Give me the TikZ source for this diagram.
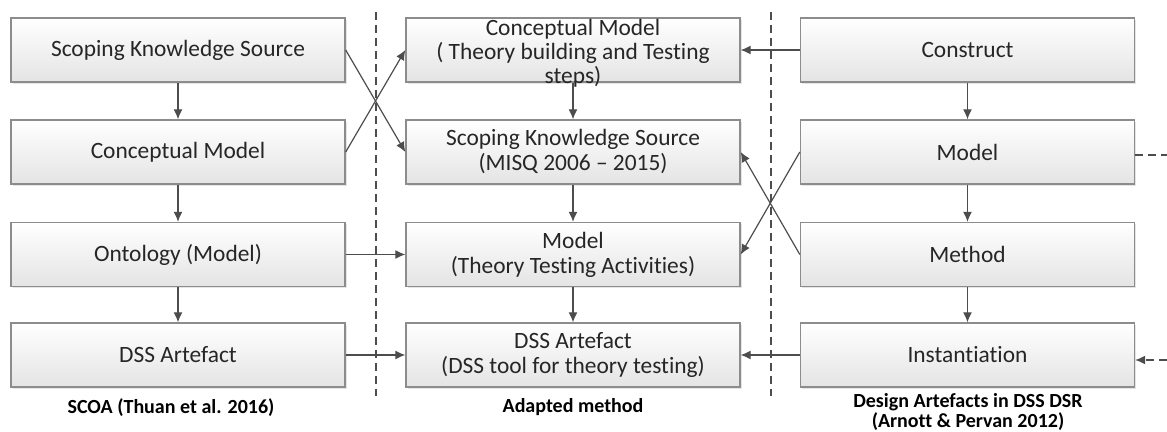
\documentclass[tikz,border=0pt]{standalone}
\usepackage{fontspec}
\setmainfont{Carlito}[Ligatures={TeX,NoCommon}]
\usetikzlibrary{arrows.meta,shadows}
\definecolor{boxgray}{HTML}{8C8C8C}
\definecolor{boxfill}{HTML}{E4E4E4}
\definecolor{linegray}{HTML}{4D4D4D}
\definecolor{textgray}{HTML}{262626}
\tikzset{
  artbox/.style={draw=boxgray, line width=0.7pt, top color=white, bottom color=boxfill,
    minimum width=167pt, minimum height=32pt, inner sep=1pt, align=center,
    font=\fontsize{11.7}{12.5}\selectfont, text=textgray,
    drop shadow={shadow xshift=0.8pt, shadow yshift=-0.8pt, fill=black, opacity=0.1}},
  boxtext/.style={inner sep=0pt, align=center, font=\fontsize{11.7}{12}\selectfont, text=textgray},
  flow/.style={draw=linegray, line width=0.6pt, -{Latex[length=5pt,width=4.5pt]}},
  sepline/.style={draw=linegray, line width=0.7pt, dash pattern=on 4pt off 2.5pt},
  caption/.style={font=\fontsize{10}{9}\selectfont\bfseries, align=center, text=black}
}
\begin{document}
\begin{tikzpicture}[x=0.5pt,y=-0.5pt]
  \useasboundingbox (0,0) rectangle (1167,432);
  % column separators
  \draw[sepline] (376,12) -- (376,396);
  \draw[sepline] (771,12) -- (771,396);
  % SCOA
  \node[artbox] (scope) at (178,50) {Scoping Knowledge Source};
  \node[artbox] (concept) at (178,152) {Conceptual Model};
  \node[artbox] (onto) at (178,254.5) {Ontology (Model)};
  \node[artbox] (dssL) at (178,355) {DSS Artefact};
  % adapted method
  \node[artbox] (mconcept) at (573,50) {};
  \node[boxtext] (mconcepttext) at ([yshift=-1.5pt]mconcept) {Conceptual Model\\( Theory building and Testing\\steps)};
  \node[artbox] (mscope) at (573,152) {Scoping Knowledge Source\\(MISQ 2006 -- 2015)};
  \node[artbox] (mmodel) at (573,254.5) {Model\\(Theory Testing Activities)};
  \node[artbox] (mdss) at (573,355) {DSS Artefact\\(DSS tool for theory testing)};
  % design artefacts
  \node[artbox] (construct) at (967.5,50) {Construct};
  \node[artbox] (rmodel) at (967.5,152) {Model};
  \node[artbox] (method) at (967.5,254.5) {Method};
  \node[artbox] (inst) at (967.5,355) {Instantiation};
  % captions
  \node[caption] (scoa) at (171,408) {SCOA (Thuan et al. 2016)};
  \node[caption] (adapted) at (573,407) {Adapted method};
  \node[caption] (dsr) at (968,412) {Design Artefacts in DSS DSR\\(Arnott \& Pervan 2012)};
  % flows down each column
  \foreach \a/\b in {scope/concept, concept/onto, onto/dssL,
                     mconcept/mscope, mscope/mmodel, mmodel/mdss,
                     construct/rmodel, rmodel/method, method/inst}
    \draw[flow] (\a.south) -- (\b.north);
  % flows across
  \draw[flow] (scope.east) -- (mscope.west);
  \draw[flow] (concept.east) -- (mconcept.west);
  \draw[flow] (onto.east) -- (mmodel.west);
  \draw[flow] (dssL.east) -- (mdss.west);
  \draw[flow] (construct.west) -- (mconcept.east);
  \draw[flow] (rmodel.west) -- (mmodel.east);
  \draw[flow] (method.west) -- (mscope.east);
  \draw[flow] (inst.west) -- (mdss.east);
  % loose ends on the right
  \coordinate (modelout) at (1167,155);
  \coordinate (instin) at (1167,360);
  \draw[sepline] (rmodel.east |- modelout) -- (modelout);
  \draw[flow, dash pattern=on 4pt off 2.5pt] (instin) -- (inst.east |- instin);
\end{tikzpicture}
\end{document}
